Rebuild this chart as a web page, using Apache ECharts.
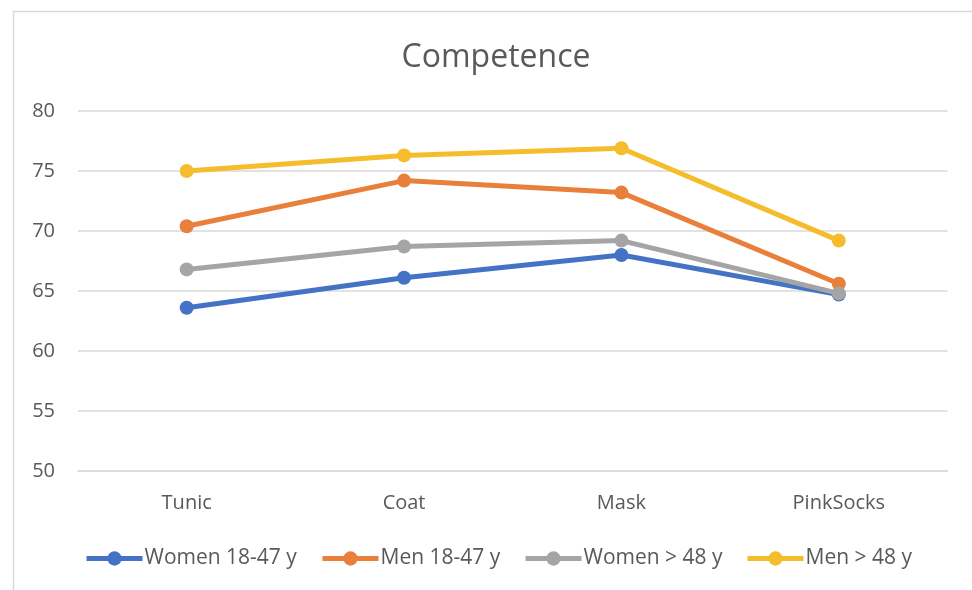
<!DOCTYPE html>
<html>
<head>
<meta charset="utf-8">
<script src="https://cdn.jsdelivr.net/npm/echarts@6/dist/echarts.min.js"></script>
<style>
html,body{margin:0;padding:0;background:#fff;}
#c{width:972px;height:590px;}
</style>
</head>
<body>
<div id="c"></div>
<script>
const categories = ['Tunic', 'Coat', 'Mask', 'PinkSocks'];
const seriesNames = ['Women 18-47 y', 'Men 18-47 y', 'Women > 48 y', 'Men > 48 y'];
const women1847 = [63.6, 66.1, 68.0, 64.7];
const men1847 = [70.4, 74.2, 73.2, 65.6];
const women48 = [66.8, 68.7, 69.2, 64.8];
const men48 = [75.0, 76.3, 76.9, 69.2];
const yTicks = [50, 55, 60, 65, 70, 75, 80];

const colors = ['#4472C4', '#E8803C', '#A5A5A5', '#F5BD2B'];
const values = [women1847, men1847, women48, men48];
const legendLeft = [84, 320, 523, 745];
const FONT = '"Open Sans", sans-serif';
const TXT = '#595959';

const chart = echarts.init(document.getElementById('c'), null, {renderer: 'canvas'});
const option = {
  animation: false,
  backgroundColor: '#fff',
  color: colors,
  title: {
    text: 'Competence',
    left: 496, top: 42, textAlign: 'center', padding: 0,
    textStyle: {fontFamily: FONT, fontSize: 32, fontWeight: 'normal', color: TXT}
  },
  graphic: [{
    type: 'rect', silent: true, z: -1,
    shape: {x: 13.5, y: 11.5, width: 1000, height: 620},
    style: {fill: 'none', stroke: '#d9d9d9', lineWidth: 1.5}
  }],
  legend: seriesNames.map((n, i) => ({
    data: [n],
    left: legendLeft[i], top: 548, padding: 0,
    itemWidth: 56, itemHeight: 18, itemGap: 0,
    lineStyle: {width: 5},
    textStyle: {fontFamily: FONT, fontSize: 21, color: TXT, padding: [0, 0, 0, -3]},
  })),
  grid: {left: 78, right: 24.5, top: 111, bottom: 119},
  xAxis: {
    type: 'category', data: categories, boundaryGap: true,
    axisLine: {show: true, lineStyle: {color: '#d9d9d9', width: 1.5}},
    axisTick: {show: false},
    axisLabel: {fontFamily: FONT, fontSize: 20, color: TXT, margin: 22}
  },
  yAxis: {
    type: 'value', min: yTicks[0], max: yTicks[yTicks.length - 1], interval: 5,
    axisLine: {show: false}, axisTick: {show: false},
    splitLine: {lineStyle: {color: '#d9d9d9', width: 1.5}},
    axisLabel: {fontFamily: FONT, fontSize: 20, color: TXT, margin: 23}
  },
  series: seriesNames.map((n, i) => ({
    name: n, type: 'line', data: values[i],
    symbol: 'circle', symbolSize: 14,
    lineStyle: {width: 5, color: colors[i]},
    itemStyle: {color: colors[i]},
    z: 2 + i
  }))
};
chart.setOption(option);
</script>
</body>
</html>
